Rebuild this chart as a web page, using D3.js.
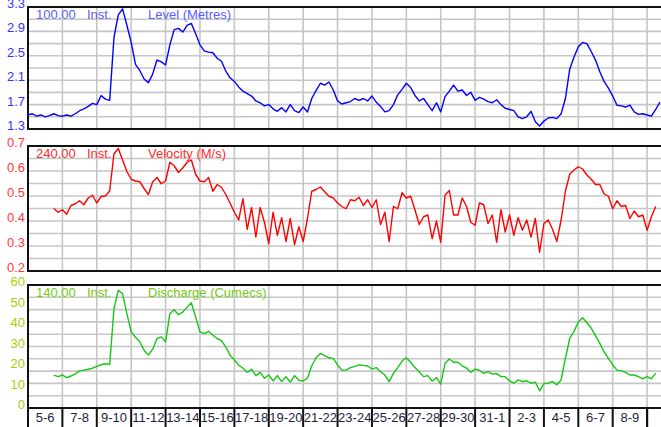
<!DOCTYPE html>
<html><head><meta charset="utf-8">
<script src="https://cdn.jsdelivr.net/npm/d3@7"></script>
<style>body{margin:0;background:#fff}svg{display:block;font-family:"Liberation Sans",Arial,sans-serif}</style>
</head><body><svg id="c" width="661" height="427"></svg>
<script>
// Day-pair labels along the time axis (each cell = 2 days)
const dayLabels = ["5-6","7-8","9-10","11-12","13-14","15-16","17-18","19-20","21-22","23-24","25-26","27-28","29-30","31-1","2-3","4-5","6-7","8-9"];
const stepDays = 0.25;       // sample interval (days)
const levelStart = 0;        // days from start of "5-6"
const velocityStart = 1.5;
const dischargeStart = 1.5;
const totalDays = 36.75;

const levelValues = [
 1.53,1.55,1.51,1.53,1.50,1.52,1.55,1.52,
 1.51,1.53,1.51,1.55,1.60,1.63,1.67,1.72,
 1.70,1.85,1.79,1.77,2.80,3.17,3.27,3.00,
 2.72,2.36,2.26,2.12,2.06,2.20,2.43,2.40,
 2.35,2.68,2.93,2.95,2.89,3.00,3.03,2.86,
 2.68,2.58,2.56,2.55,2.46,2.41,2.25,2.14,
 2.08,1.99,1.92,1.88,1.84,1.76,1.73,1.68,
 1.70,1.63,1.59,1.65,1.58,1.70,1.60,1.57,
 1.66,1.58,1.80,1.93,2.05,2.02,2.07,1.94,
 1.76,1.71,1.73,1.75,1.80,1.77,1.80,1.76,
 1.84,1.74,1.67,1.58,1.60,1.70,1.86,1.95,
 2.05,1.98,1.85,1.76,1.80,1.70,1.60,1.73,
 1.58,1.83,1.92,2.02,1.92,1.94,1.85,1.90,
 1.77,1.82,1.79,1.75,1.73,1.78,1.70,1.64,
 1.62,1.60,1.50,1.47,1.50,1.59,1.42,1.35,
 1.43,1.48,1.49,1.47,1.55,1.80,2.28,2.48,
 2.65,2.72,2.70,2.57,2.43,2.24,2.08,1.97,
 1.84,1.69,1.68,1.66,1.69,1.58,1.54,1.55,
 1.53,1.51,1.62,1.74];

const velocityValues = [
 0.45,0.435,
 0.445,0.427,0.462,0.469,0.481,0.465,0.492,0.503,
 0.472,0.498,0.50,0.52,0.669,0.69,0.644,0.598,
 0.567,0.56,0.557,0.53,0.506,0.557,0.574,0.549,
 0.56,0.635,0.621,0.594,0.612,0.635,0.644,0.587,
 0.56,0.557,0.574,0.519,0.546,0.535,0.506,0.472,
 0.435,0.404,0.489,0.367,0.454,0.336,0.454,0.394,
 0.309,0.435,0.343,0.413,0.318,0.41,0.305,0.377,
 0.318,0.41,0.519,0.526,0.536,0.517,0.499,0.492,
 0.472,0.458,0.449,0.485,0.481,0.495,0.462,0.485,
 0.454,0.485,0.386,0.435,0.318,0.458,0.449,0.513,
 0.492,0.499,0.445,0.386,0.417,0.424,0.329,0.40,
 0.315,0.503,0.522,0.424,0.424,0.492,0.458,0.394,
 0.383,0.472,0.465,0.39,0.424,0.315,0.445,0.356,
 0.424,0.343,0.413,0.363,0.404,0.336,0.41,0.275,
 0.39,0.404,0.367,0.318,0.404,0.519,0.587,0.604,
 0.617,0.608,0.584,0.567,0.546,0.546,0.508,0.499,
 0.449,0.481,0.458,0.462,0.41,0.44,0.417,0.424,
 0.363,0.417,0.458];

const dischargeValues = [
 16.0,15.3,
 16.1,14.8,15.6,16.6,18.1,18.5,18.9,19.4,
 20.3,21.1,21.6,21.3,48.4,57.4,55.7,46.0,
 37.1,34.5,32.3,28.2,25.8,28.7,33.9,34.7,
 32.3,46.0,47.9,45.5,46.8,49.2,51.3,44.4,
 37.1,36.3,37.4,35.5,33.9,32.9,29.8,25.8,
 23.4,21.0,19.4,17.4,18.9,15.8,17.4,14.5,
 16.1,13.2,15.8,12.9,15.3,12.6,15.8,13.5,
 13.2,14.5,20.6,24.5,26.6,25.5,24.5,24.2,
 21.0,18.5,18.5,19.7,20.3,21.0,20.8,20.5,
 19.0,19.7,17.7,16.1,12.9,16.9,19.7,22.9,
 24.5,22.3,19.7,17.7,15.3,15.8,13.2,14.8,
 11.6,21.8,23.9,22.3,22.3,20.6,19.4,17.4,
 19.0,18.4,16.9,17.7,16.5,16.8,15.3,15.3,
 13.2,12.1,13.7,12.9,13.2,12.1,12.6,8.4,
 11.9,12.1,12.9,11.3,13.7,24.2,33.9,37.4,
 41.9,44.0,41.6,39.0,35.2,31.5,27.4,24.2,
 21.0,18.5,18.1,17.4,16.1,16.1,15.3,14.2,
 15.3,14.2,17.0];

const levelTicks = [1.3,1.7,2.1,2.5,2.9,3.3];
const velocityTicks = [0.2,0.3,0.4,0.5,0.6,0.7];
const dischargeTicks = [0,10,20,30,40,50,60];

const panels = [
 {values: levelValues, start: levelStart, domain:[1.3,3.3], ticks: levelTicks, fmt: d3.format(".1f"),
  top:7, bottom:129, line:"#0000ff", tickColor:"#3434ff", headColor:"#5c5cff",
  scaleText:"100.00", title:"Level (Metres)"},
 {values: velocityValues, start: velocityStart, domain:[0.2,0.7], ticks: velocityTicks, fmt: d3.format(".1f"),
  top:146, bottom:271, line:"#ff0000", tickColor:"#ff3a3a", headColor:"#ff2a2a",
  scaleText:"240.00", title:"Velocity (M/s)"},
 {values: dischargeValues, start: dischargeStart, domain:[0,60], ticks: dischargeTicks, fmt: d3.format("d"),
  top:285, bottom:408, line:"#14c814", tickColor:"#a6d200", headColor:"#74cc10",
  scaleText:"140.00", title:"Discharge (Cumecs)"}
];

const svg = d3.select("#c");
const left = 28, right = 660;
const x = d3.scaleLinear().domain([0, totalDays]).range([left, right]);
const cellBounds = d3.range(0, totalDays, 2);

panels.forEach(p => {
  const y = d3.scaleLinear().domain(p.domain).range([p.bottom, p.top]);
  const g = svg.append("g");
  // horizontal grid (10 divisions)
  const hGrid = d3.range(1, 10).map(i => p.domain[0] + i * (p.domain[1] - p.domain[0]) / 10);
  g.selectAll("line.h").data(hGrid).join("line")
    .attr("x1", left).attr("x2", 662)
    .attr("y1", d => y(d)).attr("y2", d => y(d))
    .attr("stroke", "#c6c6c6").attr("stroke-width", 1.6);
  // vertical grid
  g.selectAll("line.v").data(cellBounds.slice(1)).join("line")
    .attr("x1", d => x(d)).attr("x2", d => x(d))
    .attr("y1", p.top).attr("y2", p.bottom)
    .attr("stroke", "#c6c6c6").attr("stroke-width", 1.6);
  // border
  g.append("rect").attr("x", left).attr("y", p.top)
    .attr("width", 640).attr("height", p.bottom - p.top)
    .attr("fill", "none").attr("stroke", "#111").attr("stroke-width", 2);
  // y tick labels
  g.selectAll("text.t").data(p.ticks).join("text")
    .attr("x", 25).attr("y", d => y(d) + 1)
    .attr("text-anchor", "end").attr("font-size", 13)
    .attr("fill", p.tickColor).text(d => p.fmt(d));
  // header texts
  g.append("text").attr("x", 36).attr("y", p.top + 12).attr("font-size", 13)
    .attr("fill", p.headColor).text(p.scaleText);
  g.append("text").attr("x", 87).attr("y", p.top + 12).attr("font-size", 13)
    .attr("fill", p.headColor).text("Inst.");
  g.append("text").attr("x", 148).attr("y", p.top + 12).attr("font-size", 13)
    .attr("fill", p.headColor).text(p.title);
  // data line
  const line = d3.line()
    .x((d, i) => x(p.start + i * stepDays))
    .y(d => y(d));
  g.append("path").datum(p.values).attr("d", line)
    .attr("fill", "none").attr("stroke", p.line).attr("stroke-width", 1.4)
    .attr("stroke-linejoin", "round");
});

// bottom time axis strip
const axisTop = 408;
svg.selectAll("line.xt").data(cellBounds).join("line")
  .attr("x1", d => x(d)).attr("x2", d => x(d))
  .attr("y1", axisTop).attr("y2", 427)
  .attr("stroke", "#111").attr("stroke-width", 2);
svg.append("line").attr("x1", x(36)).attr("x2", x(36)).attr("y1", axisTop).attr("y2", 427)
  .attr("stroke", "#111").attr("stroke-width", 2);
svg.selectAll("text.xl").data(dayLabels).join("text")
  .attr("x", (d, i) => x(i * 2 + 1)).attr("y", 422)
  .attr("text-anchor", "middle").attr("font-size", 13)
  .attr("fill", "#1e1e3c").text(d => d);
</script></body></html>
